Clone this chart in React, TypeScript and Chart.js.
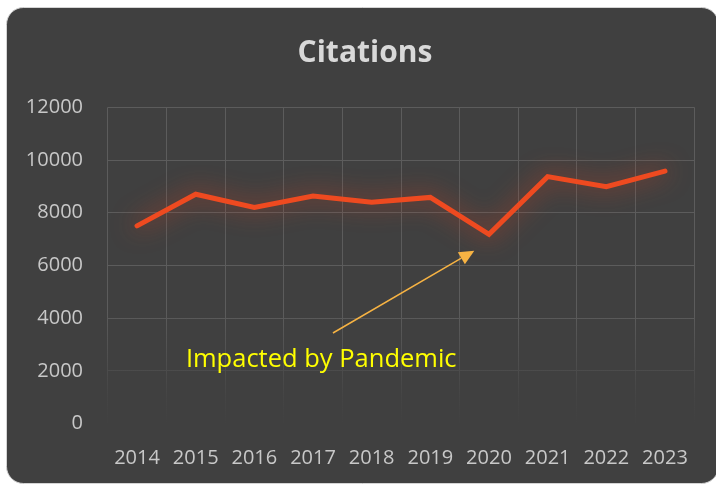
import React, { useEffect, useRef } from "react";
import { Chart, registerables } from "chart.js";

Chart.register(...registerables);

const years = ["2014", "2015", "2016", "2017", "2018", "2019", "2020", "2021", "2022", "2023"];
const citations = [7500, 8700, 8200, 8630, 8400, 8580, 7180, 9370, 8990, 9580];
const yMin = 0;
const yMax = 12000;
const yStep = 2000;
const titleText = "Citations";
const noteText = "Impacted by Pandemic";
// annotation anchors in data space: [category index, value]
const noteLabelAt = [3.14, 2150];
const noteArrowFrom = [3.34, 3435];
const noteArrowTo = [5.75, 6560];

const FONT = "'Open Sans', 'Noto Sans', sans-serif";
const CARD = "#404040";
const LINE = "#EE4A20";
const GRID = "#5c5c5c";
const TICK = "#c8c8c8";

const cardPlugin = {
  id: "cardBg",
  beforeDraw(chart: any) {
    const ctx = chart.ctx;
    ctx.save();
    ctx.fillStyle = "#ffffff";
    ctx.fillRect(0, 0, chart.width, chart.height);
    ctx.beginPath();
    (ctx as any).roundRect(6.5, 7.5, 712, 476, 17);
    ctx.fillStyle = CARD;
    ctx.fill();
    ctx.strokeStyle = "#d4d4d4";
    ctx.lineWidth = 1;
    ctx.stroke();
    // title
    ctx.fillStyle = "#d9d9d9";
    ctx.font = `bold 30px ${FONT}`;
    ctx.textAlign = "center";
    ctx.textBaseline = "middle";
    ctx.fillText(titleText, 365, 53);
    ctx.restore();
  },
};

const fadePlugin = {
  id: "gridFade",
  beforeDatasetsDraw(chart: any) {
    const { ctx, chartArea, scales } = chart;
    const y0 = scales.y.getPixelForValue(4300);
    const y1 = chartArea.bottom + 2;
    const g = ctx.createLinearGradient(0, y0, 0, y1);
    g.addColorStop(0, "rgba(64,64,64,0)");
    g.addColorStop(0.75, "rgba(64,64,64,0.85)");
    g.addColorStop(1, "rgba(64,64,64,1)");
    ctx.save();
    ctx.fillStyle = g;
    ctx.fillRect(chartArea.left - 2, y0, chartArea.right - chartArea.left + 4, y1 - y0);
    ctx.restore();
  },
};

const glowPlugin = {
  id: "glow",
  beforeDatasetDraw(chart: any) {
    const ctx = chart.ctx;
    ctx.save();
    ctx.shadowColor = "rgba(225,65,30,0.8)";
    ctx.shadowBlur = 24;
    ctx.shadowOffsetX = 0;
    ctx.shadowOffsetY = 0;
  },
  afterDatasetDraw(chart: any) {
    chart.ctx.restore();
  },
};

const notePlugin = {
  id: "note",
  afterDatasetsDraw(chart: any) {
    const { ctx, scales } = chart;
    const xs = scales.x;
    const ys = scales.y;
    const fx = xs.getPixelForValue(noteArrowFrom[0]);
    const fy = ys.getPixelForValue(noteArrowFrom[1]);
    const tx = xs.getPixelForValue(noteArrowTo[0]);
    const ty = ys.getPixelForValue(noteArrowTo[1]);
    const ang = Math.atan2(ty - fy, tx - fx);
    const headLen = 15;
    const headW = 7;
    const bx = tx - headLen * Math.cos(ang);
    const by = ty - headLen * Math.sin(ang);
    ctx.save();
    ctx.strokeStyle = "#F7B343";
    ctx.fillStyle = "#F7B343";
    ctx.lineWidth = 1.5;
    ctx.beginPath();
    ctx.moveTo(fx, fy);
    ctx.lineTo(bx, by);
    ctx.stroke();
    ctx.beginPath();
    ctx.moveTo(tx, ty);
    ctx.lineTo(bx + headW * Math.sin(ang), by - headW * Math.cos(ang));
    ctx.lineTo(bx - headW * Math.sin(ang), by + headW * Math.cos(ang));
    ctx.closePath();
    ctx.fill();

    ctx.fillStyle = "#FFFF00";
    ctx.font = `25.5px ${FONT}`;
    ctx.textAlign = "center";
    ctx.textBaseline = "alphabetic";
    ctx.fillText(noteText, xs.getPixelForValue(noteLabelAt[0]), ys.getPixelForValue(noteLabelAt[1]));
    ctx.restore();
  },
};

export default function App() {
  const ref = useRef<HTMLCanvasElement | null>(null);

  useEffect(() => {
    let chart: Chart | null = null;
    let cancelled = false;
    const make = () => {
      if (cancelled || !ref.current) return;
      chart = new Chart(ref.current, {
        type: "line",
        data: {
          labels: years,
          datasets: [
            {
              label: titleText,
              data: citations,
              borderColor: LINE,
              borderWidth: 5,
              pointRadius: 0,
              pointHoverRadius: 0,
              tension: 0,
              borderCapStyle: "round",
              borderJoinStyle: "miter",
              fill: false,
            },
          ],
        },
        options: {
          responsive: false,
          animation: false,
          layout: { padding: { left: 0, right: 21.7, top: 107.3, bottom: 0 } },
          plugins: {
            legend: { display: false },
            tooltip: { enabled: false },
            title: { display: false },
          },
          scales: {
            x: {
              offset: true,
              grid: { color: GRID, offset: true, drawTicks: false, lineWidth: 1 },
              border: { display: false },
              ticks: { color: TICK, font: { family: FONT, size: 20 }, padding: 23, maxRotation: 0, autoSkip: false },
              afterFit(s: any) {
                s.height = 61.5;
              },
            },
            y: {
              min: yMin,
              max: yMax,
              grid: { color: GRID, drawTicks: false, lineWidth: 1 },
              border: { display: false },
              ticks: {
                stepSize: yStep,
                color: TICK,
                font: { family: FONT, size: 20 },
                padding: 24.7,
                callback: (v: any) => String(v),
              },
              afterFit(s: any) {
                s.width = 107.7;
              },
            },
          },
        },
        plugins: [cardPlugin, fadePlugin, glowPlugin, notePlugin],
      });
    };
    const fonts: any = (document as any).fonts;
    if (fonts && fonts.load) {
      Promise.all([
        fonts.load(`20px 'Open Sans'`),
        fonts.load(`bold 30px 'Open Sans'`),
      ]).then(make, make);
    } else {
      make();
    }
    return () => {
      cancelled = true;
      if (chart) chart.destroy();
    };
  }, []);

  return (
    <div style={{ position: "fixed", left: 0, top: 0, width: 716, height: 485, overflow: "hidden", background: "#fff" }}>
      <canvas ref={ref} width={716} height={485} style={{ display: "block", width: 716, height: 485 }} />
    </div>
  );
}
